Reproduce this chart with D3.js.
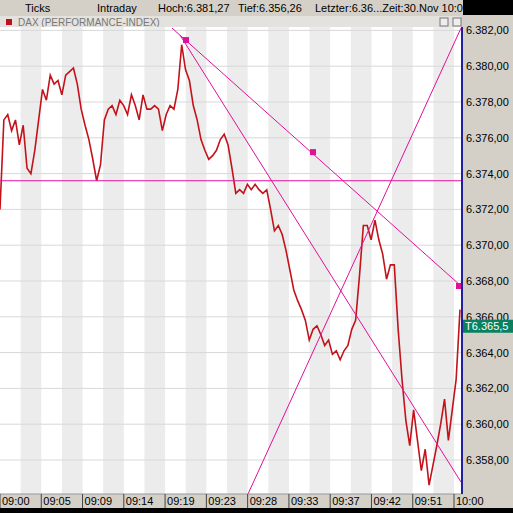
<!DOCTYPE html>
<html><head><meta charset="utf-8">
<script src="https://cdn.jsdelivr.net/npm/d3@7"></script>
<style>body{margin:0;background:#000}svg{display:block;font-family:Arial,"Liberation Sans",sans-serif}</style>
</head><body>
<script>
// price path, index points
const prices = [6372.0,6377.0,6377.3,6376.4,6377.0,6375.6,6376.7,6374.3,6374.0,6375.3,6377.0,6378.7,6378.1,6379.5,6379.0,6379.2,6378.4,6379.5,6379.7,6379.9,6379.0,
  6377.6,6376.7,6375.9,6374.8,6373.6,6374.5,6377.0,6377.6,6377.8,6377.3,6378.1,6377.8,6377.3,6378.4,6377.8,6377.0,6378.4,6377.6,6377.6,6377.8,
  6377.6,6376.4,6377.3,6377.8,6377.6,6378.7,6381.2,6379.8,6379.2,6377.8,6377.0,6375.9,6375.3,6374.8,6375.0,6375.3,6375.9,6376.2,6375.6,6374.3,
  6372.9,6373.1,6372.9,6373.4,6373.1,6373.4,6373.1,6372.9,6373.1,6372.0,6370.8,6371.1,6370.6,6369.7,6368.6,6367.5,6366.9,6366.4,6365.8,6364.7,
  6365.3,6365.5,6365.0,6364.4,6364.7,6363.9,6364.1,6363.6,6364.1,6364.4,6365.3,6365.8,6368.3,6371.1,6371.1,6370.3,6371.4,6370.3,6369.5,6368.1,
  6368.9,6368.9,6365.3,6362.5,6360.2,6358.8,6360.8,6359.1,6357.4,6358.6,6356.6,6357.7,6358.8,6360.0,6361.4,6359.1,6360.8,6362.5,6366.4];
const timeLabels = ['09:00','09:05','09:09','09:14','09:19','09:23','09:28','09:33','09:37','09:42','09:51','10:00'];
const priceTicks = [6358,6360,6362,6364,6366,6368,6370,6372,6374,6376,6378,6380,6382];
// trend lines on a 0..115 position scale: [pos1, value1, pos2, value2]
const trendLines = [[0,6373.6,115.25,6373.6],[43,6382.13,115.25,6367.72],[45,6381.74,115.25,6356.77],[62,6356.1,115.25,6382.13]];
const trendMarkers = [[46.5,6381.46],[78.25,6375.2],[114.75,6367.72]];
const headerItems = [['Ticks',25],['Intraday',97],['Hoch:6.381,27',158],['Tief:6.356,26',238],['Letzter:6.36...Zeit:30.Nov  10:0.',315]];
const lastLabel = 'T6.365,5';

const W = 513, H = 513, plotTop = 27, plotBottom = 494, plotRight = 461;
const svg = d3.select('body').append('svg').attr('width', W).attr('height', H);
const fmtP = (v) => { const s = v.toFixed(2).split('.'); return s[0][0] + '.' + s[0].slice(1) + ',' + s[1]; };

const x = d3.scaleLinear().domain([0, prices.length - 1]).range([0, 460]);
const xt = d3.scaleLinear().domain([0, 115]).range([0, 460]);
const y = d3.scaleLinear().domain([6356.1, 6382.19]).range([plotBottom, plotTop]);
const tx = d3.scalePoint().domain(timeLabels).range([0, 454]);

svg.append('rect').attr('width', W).attr('height', H).attr('fill', '#d4d0c8');
svg.append('rect').attr('x', 463).attr('width', 50).attr('height', 15).attr('fill', '#000');
svg.selectAll('text.hd').data(headerItems).join('text').attr('class', 'hd')
  .attr('x', (d) => d[1]).attr('y', 12).attr('font-size', 11).attr('fill', '#000').text((d) => d[0]);
svg.append('rect').attr('y', 508).attr('width', W).attr('height', 5).attr('fill', '#000');

// panel title bar
svg.append('rect').attr('x', 0).attr('y', 16).attr('width', plotRight).attr('height', 11).attr('fill', '#e4e2de');
svg.append('rect').attr('x', 6).attr('y', 19).attr('width', 6).attr('height', 6).attr('fill', '#c0101a');
svg.append('text').attr('x', 18).attr('y', 26).attr('font-size', 10).attr('fill', '#777').text('DAX (PERFORMANCE-INDEX)');
[440, 453].forEach((ix) => svg.append('rect').attr('x', ix).attr('y', 18).attr('width', 8).attr('height', 8)
  .attr('fill', '#eee').attr('stroke', '#777'));

// plot background with stripes
const plot = svg.append('g');
plot.append('rect').attr('y', plotTop).attr('width', plotRight).attr('height', plotBottom - plotTop).attr('fill', '#fff');
plot.selectAll('rect.st').data(d3.range(1, 23, 2)).join('rect').attr('class', 'st')
  .attr('x', (d) => d * 454 / 22).attr('y', plotTop).attr('width', 454 / 22).attr('height', plotBottom - plotTop).attr('fill', '#ececec');
plot.selectAll('line.gy').data(priceTicks).join('line').attr('class', 'gy')
  .attr('x1', 0).attr('x2', plotRight).attr('y1', (d) => y(d)).attr('y2', (d) => y(d)).attr('stroke', '#d8d8d8');

// price
plot.append('path').datum(prices).attr('fill', 'none').attr('stroke', '#c4121a').attr('stroke-width', 1.6)
  .attr('d', d3.line().x((d, i) => x(i)).y((d) => y(d)));

// trend lines
plot.selectAll('line.tr').data(trendLines).join('line').attr('class', 'tr')
  .attr('x1', (d) => xt(d[0])).attr('y1', (d) => y(d[1])).attr('x2', (d) => xt(d[2])).attr('y2', (d) => y(d[3]))
  .attr('stroke', '#e0109a').attr('stroke-width', 1);
plot.selectAll('rect.mk').data(trendMarkers).join('rect').attr('class', 'mk')
  .attr('x', (d) => xt(d[0]) - 3).attr('y', (d) => y(d[1]) - 3).attr('width', 6).attr('height', 6).attr('fill', '#e0109a');

svg.append('line').attr('x1', plotRight + 1).attr('x2', plotRight + 1).attr('y1', plotTop).attr('y2', plotBottom).attr('stroke', '#2020a0').attr('stroke-width', 2);

// right axis
svg.selectAll('text.ya').data(priceTicks).join('text').attr('class', 'ya')
  .attr('x', 466).attr('y', (d) => y(d) + 4).attr('font-size', 11).attr('fill', '#000').text(fmtP);
svg.append('rect').attr('x', 463).attr('y', y(6365.5) - 6).attr('width', 50).attr('height', 13).attr('fill', '#0a8060');
svg.append('text').attr('x', 465).attr('y', y(6365.5) + 4).attr('font-size', 11).attr('fill', '#fff').text(lastLabel);

// bottom axis
svg.append('line').attr('x1', 0).attr('x2', plotRight).attr('y1', plotBottom).attr('y2', plotBottom).attr('stroke', '#999');
const bx = svg.selectAll('g.bx').data(timeLabels).join('g').attr('class', 'bx')
  .attr('transform', (d) => `translate(${tx(d)},${plotBottom})`);
bx.append('line').attr('y1', 0).attr('y2', 14).attr('stroke', '#444');
bx.append('text').attr('x', 2).attr('y', 11).attr('font-size', 11).attr('fill', '#000').text((d) => d);
</script>
</body></html>
